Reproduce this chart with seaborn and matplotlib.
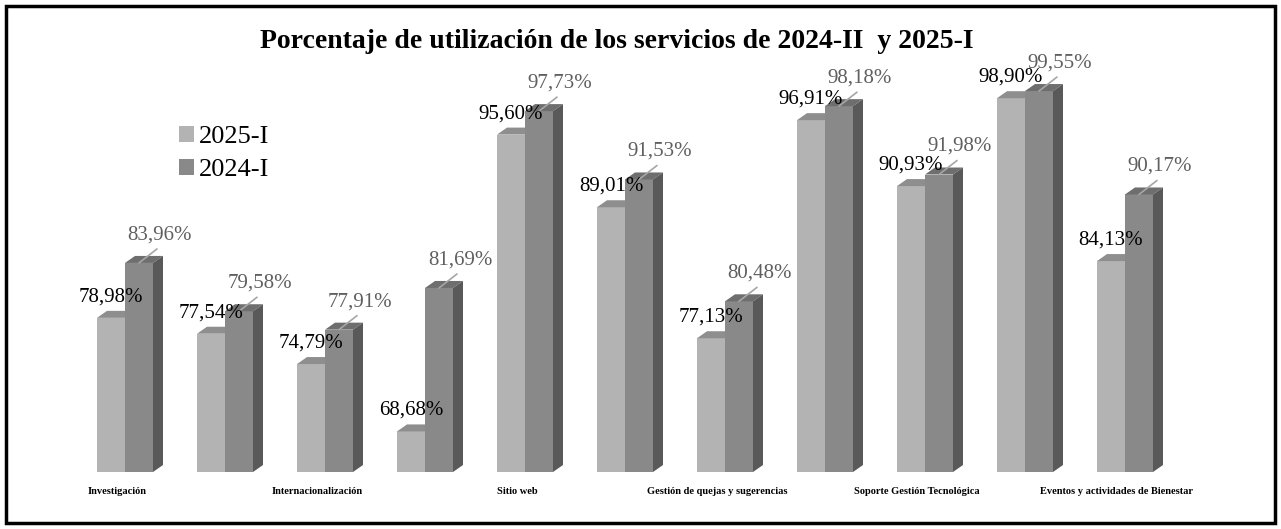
import numpy as np
import pandas as pd
import seaborn as sns
import matplotlib.pyplot as plt
from matplotlib.patches import Polygon, Patch, Rectangle

# datos
etiquetas = ["Investigación", "", "Internacionalización", "", "Sitio web", "",
             "Gestión de quejas y sugerencias", "", "Soporte Gestión Tecnológica", "",
             "Eventos y actividades de Bienestar"]
periodos = ["2025-I", "2024-I"]
v2025 = [78.98, 77.54, 74.79, 68.68, 95.60, 89.01, 77.13, 96.91, 90.93, 98.90, 84.13]
v2024 = [83.96, 79.58, 77.91, 81.69, 97.73, 91.53, 80.48, 98.18, 91.98, 99.55, 90.17]
titulo = "Porcentaje de utilización de los servicios de 2024-II  y 2025-I"

df = pd.DataFrame({
    "pos": list(range(len(etiquetas))) * 2,
    "valor": v2025 + v2024,
    "periodo": [periodos[0]] * len(v2025) + [periodos[1]] * len(v2024),
})

sns.set_style("white")
plt.rcParams["font.family"] = ["Liberation Serif", "DejaVu Serif"]
plt.rcParams["text.color"] = "black"
plt.rcParams["xtick.color"] = "black"

W, H = 1281, 529
fig = plt.figure(figsize=(W / 100, H / 100), dpi=100)
ax = fig.add_axes([65 / W, 57 / H, 1120 / W, 419 / H])

col_front = {"2025-I": "#b3b3b3", "2024-I": "#898989"}
col_top = {"2025-I": "#8e8e8e", "2024-I": "#6e6e6e"}
col_side = "#595959"

sns.barplot(data=df, x="pos", y="valor", hue="periodo", hue_order=periodos,
            palette=col_front, width=0.56, saturation=1, legend=False, ax=ax)

ax.set_xlim(-0.6, 10.6)
ax.set_ylim(65, 103)
y0 = ax.get_ylim()[0]

# profundidad del efecto 3D (en unidades de datos)
dx = 10 / 100
dy = 7 / 11.02

for k, (cont, per) in enumerate(zip(ax.containers, periodos)):
    for bar in cont:
        x0 = bar.get_x()
        x1 = x0 + bar.get_width()
        top = bar.get_height()
        bar.set_zorder(2 + 2 * k)
        bar.set_edgecolor("none")
        tapa = Polygon([(x0, top), (x1, top), (x1 + dx, top + dy), (x0 + dx, top + dy)],
                       closed=True, fc=col_top[per], ec="none", zorder=2.5 + 2 * k)
        lado = Polygon([(x1, y0), (x1 + dx, y0 + dy), (x1 + dx, top + dy), (x1, top)],
                       closed=True, fc=col_side, ec="none", zorder=2.5 + 2 * k)
        ax.add_patch(tapa)
        ax.add_patch(lado)
        txt = f"{top:.2f}%".replace(".", ",")
        cx = x0 + bar.get_width() / 2
        if k == 0:
            ax.annotate(txt, xy=(cx, top), xytext=(0, 21), textcoords="offset pixels",
                        ha="center", va="center", fontsize=15, color="black", zorder=10)
        else:
            ax.annotate(txt, xy=(cx, top), xytext=(21, 28), textcoords="offset pixels",
                        ha="center", va="center", fontsize=15, color="#5f5f5f", zorder=10)
            ax.annotate("", xy=(cx, top), xytext=(18, 14), textcoords="offset pixels",
                        arrowprops=dict(arrowstyle="-", color="#a6a6a6", lw=1.2,
                                        shrinkA=0, shrinkB=0), zorder=9)

# etiquetas del eje x algo a la izquierda del centro del grupo
ax.set_xticks(np.arange(len(etiquetas)) - 0.08)
ax.set_xticklabels(etiquetas, fontsize=7.5, fontweight="bold")
ax.tick_params(axis="x", length=0, pad=11)
ax.set_yticks([])
ax.set_xlabel("")
ax.set_ylabel("")
for s in ax.spines.values():
    s.set_visible(False)

handles = [Patch(fc=col_front[p], ec="none") for p in periodos]
fig.legend(handles, periodos, loc="upper left", bbox_to_anchor=(179 / W, 1 - 126 / H),
           frameon=False, fontsize=19, handlelength=0.55, handleheight=0.55,
           handletextpad=0.2, labelspacing=0.4, borderpad=0, borderaxespad=0)

fig.text(617 / W, 1 - 41 / H, titulo, ha="center", va="center",
         fontsize=20, fontweight="bold")

fig.patches.append(Rectangle((6 / W, 6 / H), 1269 / W, 517 / H, transform=fig.transFigure,
                             fill=False, ec="black", lw=2.5))

fig.savefig("out.png", dpi=100)
